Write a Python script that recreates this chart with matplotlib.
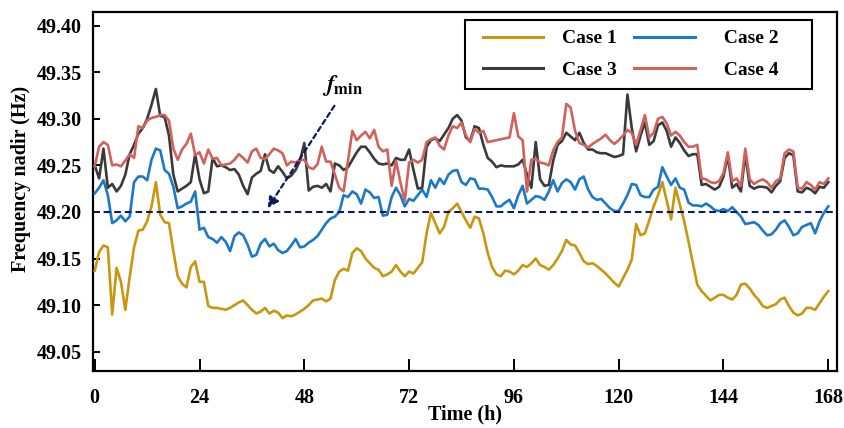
import numpy as np
import matplotlib
matplotlib.use("Agg")
import matplotlib.pyplot as plt
from matplotlib.lines import Line2D
from matplotlib.legend_handler import HandlerLine2D

# ---------------- data ----------------
CASE1 = [
    49.137, 49.157, 49.164, 49.162, 49.090, 49.140, 49.125, 49.095, 49.130, 49.162,
    49.180, 49.181, 49.190, 49.206, 49.232, 49.197, 49.189, 49.188, 49.158, 49.131,
    49.123, 49.119, 49.141, 49.147, 49.125, 49.125, 49.099, 49.097, 49.097, 49.096,
    49.095, 49.097, 49.100, 49.103, 49.105, 49.100, 49.095, 49.091, 49.093, 49.097,
    49.091, 49.094, 49.092, 49.086, 49.089, 49.088, 49.090, 49.093, 49.096, 49.100,
    49.105, 49.106, 49.107, 49.104, 49.107, 49.127, 49.136, 49.139, 49.137, 49.156,
    49.161, 49.158, 49.150, 49.145, 49.140, 49.138, 49.131, 49.133, 49.136, 49.143,
    49.136, 49.131, 49.136, 49.134, 49.140, 49.146, 49.177, 49.199, 49.188, 49.177,
    49.184, 49.200, 49.204, 49.209, 49.200, 49.191, 49.183, 49.195, 49.193, 49.177,
    49.156, 49.141, 49.133, 49.131, 49.137, 49.136, 49.133, 49.137, 49.143, 49.141,
    49.145, 49.150, 49.143, 49.141, 49.138, 49.143, 49.150, 49.158, 49.170, 49.165,
    49.164, 49.156, 49.147, 49.144, 49.145, 49.142, 49.138, 49.134, 49.129, 49.124,
    49.120, 49.129, 49.138, 49.149, 49.187, 49.175, 49.177, 49.191, 49.206, 49.218,
    49.232, 49.212, 49.192, 49.226, 49.208, 49.190, 49.168, 49.145, 49.122, 49.115,
    49.110, 49.105, 49.108, 49.111, 49.111, 49.108, 49.106, 49.111, 49.122, 49.123,
    49.118, 49.111, 49.106, 49.099, 49.097, 49.099, 49.101, 49.106, 49.108, 49.099,
    49.092, 49.089, 49.091, 49.097, 49.097, 49.095, 49.102, 49.109, 49.115,
]

CASE2 = [
    49.220, 49.226, 49.234, 49.218, 49.188, 49.191, 49.196, 49.190, 49.195, 49.232,
    49.238, 49.238, 49.234, 49.256, 49.268, 49.266, 49.245, 49.241, 49.227, 49.204,
    49.206, 49.209, 49.211, 49.222, 49.181, 49.183, 49.173, 49.171, 49.167, 49.173,
    49.168, 49.158, 49.174, 49.178, 49.175, 49.165, 49.152, 49.154, 49.166, 49.171,
    49.163, 49.166, 49.159, 49.156, 49.158, 49.164, 49.171, 49.162, 49.163, 49.167,
    49.170, 49.174, 49.181, 49.188, 49.193, 49.195, 49.200, 49.218, 49.216, 49.222,
    49.219, 49.209, 49.224, 49.221, 49.215, 49.216, 49.196, 49.197, 49.216, 49.226,
    49.218, 49.206, 49.214, 49.212, 49.218, 49.224, 49.216, 49.234, 49.226, 49.236,
    49.230, 49.240, 49.244, 49.245, 49.232, 49.229, 49.236, 49.235, 49.225, 49.225,
    49.224, 49.216, 49.206, 49.206, 49.210, 49.213, 49.204, 49.218, 49.228, 49.209,
    49.213, 49.217, 49.216, 49.213, 49.222, 49.234, 49.222, 49.231, 49.235, 49.232,
    49.224, 49.235, 49.238, 49.224, 49.216, 49.213, 49.214, 49.209, 49.204, 49.201,
    49.201, 49.209, 49.218, 49.230, 49.229, 49.218, 49.216, 49.216, 49.224, 49.227,
    49.248, 49.238, 49.229, 49.236, 49.226, 49.224, 49.210, 49.207, 49.207, 49.206,
    49.209, 49.206, 49.202, 49.201, 49.203, 49.201, 49.205, 49.200, 49.195, 49.187,
    49.188, 49.189, 49.186, 49.180, 49.175, 49.176, 49.181, 49.188, 49.191, 49.184,
    49.175, 49.177, 49.184, 49.186, 49.188, 49.177, 49.190, 49.199, 49.206,
]

CASE3 = [
    49.250, 49.236, 49.268, 49.226, 49.230, 49.222, 49.228, 49.240, 49.262, 49.272,
    49.284, 49.290, 49.300, 49.315, 49.332, 49.303, 49.302, 49.282, 49.240, 49.222,
    49.225, 49.228, 49.232, 49.262, 49.235, 49.220, 49.222, 49.258, 49.249, 49.250,
    49.248, 49.245, 49.246, 49.240, 49.228, 49.219, 49.237, 49.241, 49.244, 49.262,
    49.245, 49.242, 49.249, 49.243, 49.236, 49.239, 49.245, 49.255, 49.274, 49.223,
    49.227, 49.228, 49.226, 49.230, 49.222, 49.252, 49.250, 49.245, 49.248, 49.256,
    49.264, 49.270, 49.270, 49.264, 49.257, 49.252, 49.251, 49.252, 49.250, 49.258,
    49.256, 49.256, 49.267, 49.245, 49.225, 49.226, 49.270, 49.277, 49.279, 49.276,
    49.283, 49.290, 49.300, 49.304, 49.298, 49.280, 49.276, 49.292, 49.290, 49.272,
    49.258, 49.254, 49.248, 49.250, 49.249, 49.249, 49.249, 49.251, 49.256, 49.240,
    49.226, 49.275, 49.235, 49.228, 49.229, 49.255, 49.272, 49.276, 49.285, 49.281,
    49.277, 49.285, 49.274, 49.267, 49.267, 49.264, 49.263, 49.263, 49.261, 49.259,
    49.260, 49.262, 49.326, 49.290, 49.265, 49.282, 49.296, 49.272, 49.276, 49.293,
    49.296, 49.287, 49.270, 49.280, 49.274, 49.266, 49.260, 49.262, 49.262, 49.229,
    49.230, 49.227, 49.224, 49.227, 49.238, 49.260, 49.226, 49.230, 49.222, 49.262,
    49.228, 49.225, 49.227, 49.227, 49.226, 49.221, 49.228, 49.233, 49.258, 49.263,
    49.261, 49.222, 49.221, 49.226, 49.224, 49.220, 49.227, 49.226, 49.232,
]

CASE4 = [
    49.249, 49.270, 49.275, 49.272, 49.250, 49.251, 49.249, 49.255, 49.262, 49.258,
    49.292, 49.290, 49.298, 49.301, 49.302, 49.304, 49.304, 49.298, 49.268, 49.256,
    49.267, 49.273, 49.284, 49.261, 49.264, 49.252, 49.267, 49.257, 49.258, 49.250,
    49.251, 49.252, 49.256, 49.262, 49.258, 49.253, 49.265, 49.268, 49.258, 49.257,
    49.262, 49.268, 49.266, 49.263, 49.250, 49.254, 49.253, 49.256, 49.256, 49.248,
    49.246, 49.251, 49.270, 49.254, 49.254, 49.240, 49.226, 49.222, 49.255, 49.287,
    49.277, 49.282, 49.286, 49.279, 49.288, 49.270, 49.265, 49.267, 49.228, 49.255,
    49.232, 49.212, 49.253, 49.256, 49.253, 49.256, 49.275, 49.278, 49.280, 49.271,
    49.267, 49.282, 49.292, 49.290, 49.296, 49.282, 49.275, 49.289, 49.285, 49.287,
    49.275, 49.276, 49.277, 49.278, 49.279, 49.280, 49.306, 49.281, 49.277, 49.222,
    49.256, 49.257, 49.253, 49.252, 49.250, 49.266, 49.275, 49.280, 49.316, 49.312,
    49.287, 49.274, 49.272, 49.269, 49.273, 49.276, 49.279, 49.283, 49.277, 49.273,
    49.277, 49.282, 49.288, 49.285, 49.272, 49.288, 49.304, 49.280, 49.285, 49.300,
    49.302, 49.295, 49.282, 49.286, 49.282, 49.275, 49.270, 49.270, 49.272, 49.236,
    49.235, 49.232, 49.231, 49.233, 49.242, 49.264, 49.233, 49.236, 49.228, 49.268,
    49.235, 49.230, 49.233, 49.235, 49.232, 49.226, 49.233, 49.236, 49.263, 49.267,
    49.265, 49.226, 49.225, 49.232, 49.229, 49.224, 49.232, 49.230, 49.236,
]

SERIES_LABELS = ["Case 1", "Case 2", "Case 3", "Case 4"]
F_MIN = 49.20
X_TICKS = [0, 24, 48, 72, 96, 120, 144, 168]
Y_TICKS = [49.05, 49.10, 49.15, 49.20, 49.25, 49.30, 49.35, 49.40]

# ---------------- style ----------------
plt.rcParams["font.family"] = ["Liberation Serif", "DejaVu Serif"]
plt.rcParams["font.weight"] = "bold"
plt.rcParams["mathtext.fontset"] = "stix"

COLORS = ["#C9970F", "#1C78C8", "#3A3A3A", "#D0625C"]
NAVY = "#0C1A66"

fig = plt.figure(figsize=(8.45, 4.28), dpi=100)
fig.patch.set_facecolor("white")
ax = fig.add_axes([93 / 845, 1 - 371 / 428, (837 - 93) / 845, (371 - 12) / 428])

hours = np.arange(len(CASE1))
lines = []
for vals, col, lab in zip([CASE1, CASE2, CASE3, CASE4], COLORS, SERIES_LABELS):
    ln, = ax.plot(hours, vals, color=col, lw=1.9, label=lab, zorder=3)
    lines.append(ln)

ax.axhline(F_MIN, color=NAVY, lw=1.5, linestyle=(0, (3.2, 1.9)), zorder=4)

# f_min annotation
ax.annotate("", xy=(39.6, 49.204), xytext=(54.9, 49.314),
            arrowprops=dict(arrowstyle="-|>", color=NAVY, lw=1.6,
                            linestyle=(0, (2.2, 1.6)), mutation_scale=16,
                            shrinkA=0, shrinkB=0), zorder=5)
ax.text(52.0, 49.336, r"$f_{\mathbf{min}}$", fontsize=17, ha="left", va="center",
        color="black")

ax.set_xlim(-0.4, 170.0)
ax.set_ylim(49.0293, 49.4146)
ax.set_xticks(X_TICKS)
ax.set_xticklabels([str(t) for t in X_TICKS])
ax.set_yticks(Y_TICKS)
ax.set_yticklabels([f"{t:.2f}" for t in Y_TICKS])

ax.tick_params(axis="both", direction="in", width=1.4, labelsize=14.5)
ax.tick_params(axis="x", length=9, pad=12.5)
ax.tick_params(axis="y", length=5, pad=8)
for lab in ax.get_xticklabels() + ax.get_yticklabels():
    lab.set_fontweight("bold")

for sp in ax.spines.values():
    sp.set_linewidth(1.6)
    sp.set_color("black")

ax.set_xlabel("Time (h)", fontsize=14.5, fontweight="bold", va="top")
ax.xaxis.set_label_coords(0.5, -(404 - 371) / 359)
ax.set_ylabel("Frequency nadir (Hz)", fontsize=14.5, fontweight="bold",
              ha="center", va="center")
ax.yaxis.set_label_coords((21.5 - 93) / 744, 1 - (179 - 12) / 359)

handles = [lines[0], lines[2], lines[1], lines[3]]
labels = ["Case 1", "Case 3", "  Case 2     ", "  Case 4     "]
leg = ax.legend(handles, labels, ncol=2, loc="upper left",
                bbox_to_anchor=((465 - 93) / 744, 1 - (20 - 12) / 359),
                borderaxespad=0, fontsize=14, frameon=True, fancybox=False,
                framealpha=1, edgecolor="black", handlelength=3.52,
                handletextpad=0.98, columnspacing=0.47, labelspacing=0.73,
                borderpad=0.5,
                handler_map={Line2D: HandlerLine2D(xpad=0.43)})
leg.get_frame().set_linewidth(1.5)
for t in leg.get_texts():
    t.set_fontweight("bold")
for lh in leg.get_lines():
    lh.set_linewidth(2.2)

fig.savefig("out.png", dpi=100, facecolor="white")
